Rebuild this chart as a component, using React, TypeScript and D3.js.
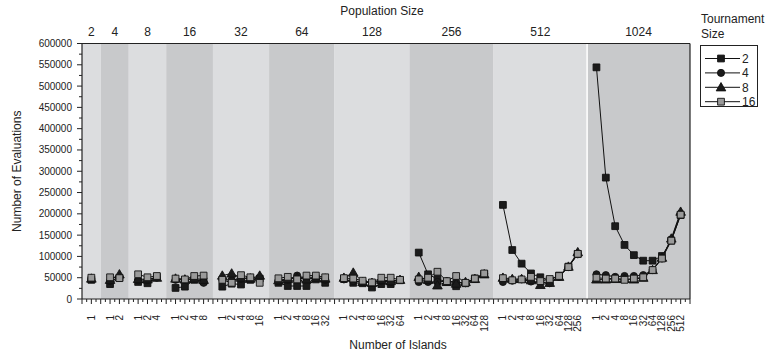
import React from "react";
import * as d3 from "d3";

// Population sizes shown as panels along the x axis
const POP_SIZES = [2, 4, 8, 16, 32, 64, 128, 256, 512, 1024];

// Tournament sizes (series)
const TOURNAMENT_SIZES = ["2", "4", "8", "16"];

// Number of evaluations per population size, one inner array per panel,
// indexed by number of islands 1, 2, 4, ... popSize/2
const evalsT2 = [
  [45000],
  [35000, 50000],
  [40000, 37000, 52000],
  [26000, 29000, 45000, 42000],
  [29000, 36000, 34000, 45000, 48000],
  [38000, 30500, 30500, 30500, 46000, 38000],
  [47000, 38000, 37000, 27000, 35000, 35000, 44000],
  [109000, 58000, 47000, 40000, 30000, 37000, 48000, 59000],
  [221000, 115000, 83000, 60000, 51000, 44000, 55000, 76000, 106000],
  [544000, 285000, 171000, 127000, 103000, 90000, 90000, 101000, 137000, 197000],
];
const evalsT4 = [
  [47000],
  [42000, 50000],
  [44000, 45000, 50000],
  [45000, 45000, 47000, 38000],
  [45000, 45000, 47000, 50000, 48000],
  [42000, 45000, 55000, 48000, 52000, 45000],
  [46000, 42000, 40000, 38000, 42000, 40000, 45000],
  [40000, 40000, 40000, 42000, 40000, 37000, 48000, 59000],
  [40000, 43000, 46000, 41000, 40000, 37000, 52000, 75000, 105000],
  [58000, 56000, 52000, 54000, 54000, 56000, 68000, 95000, 140000, 200000],
];
const evalsT8 = [
  [48000],
  [45000, 58000],
  [47000, 46000, 50000],
  [48000, 46000, 48000, 45000],
  [55000, 60000, 50000, 48000, 55000],
  [44000, 47000, 50000, 46000, 50000, 48000],
  [50000, 62000, 40000, 38000, 45000, 42000, 45000],
  [52000, 45000, 32000, 40000, 36000, 40000, 47000, 58000],
  [50000, 47000, 47000, 44000, 33000, 38000, 52000, 76000, 110000],
  [46000, 46000, 47000, 47000, 46000, 50000, 68000, 97000, 142000, 205000],
];
const evalsT16 = [
  [50000],
  [51000, 49000],
  [58000, 51000, 54000],
  [48000, 46000, 54000, 55000],
  [45000, 38000, 56000, 51000, 38000],
  [48600, 52000, 46000, 55000, 55000, 51000],
  [49000, 48000, 43000, 39000, 50000, 50000, 45000],
  [46000, 50000, 64000, 42000, 54000, 38000, 48000, 60000],
  [49000, 44000, 46000, 52000, 42000, 47000, 54000, 75000, 106000],
  [50000, 48000, 48000, 45000, 48000, 51000, 68000, 95000, 137000, 198000],
];

const Y_TICKS = d3.range(0, 600001, 50000);

const W = 765;
const H = 358;
const M = { left: 82, right: 690, top: 43.5, bottom: 299 };
const FONT = "Liberation Sans, Arial, sans-serif";

// Slot layout: each panel holds n island counts plus one spare slot
const panels = (() => {
  let start = 0;
  return POP_SIZES.map((p, i) => {
    const n = Math.round(Math.log2(p));
    const islands = d3.range(n).map((k) => 2 ** k);
    const panel = { pop: p, index: i, start, end: start + n + 1, islands };
    start += n + 1;
    return panel;
  });
})();
const TOTAL_SLOTS = panels[panels.length - 1].end;

const x = d3.scaleLinear().domain([0, TOTAL_SLOTS]).range([M.left, M.right]);
const y = d3.scaleLinear().domain([0, 600000]).range([M.bottom, M.top]);

const seriesData = [evalsT2, evalsT4, evalsT8, evalsT16];
const symbols = [d3.symbolSquare, d3.symbolCircle, d3.symbolTriangle, d3.symbolSquare];
const symbolSizes = [46, 40, 40, 46];
const fills = ["#1b1b1b", "#1b1b1b", "#1b1b1b", "#9a9a9a"];

const lineGen = d3
  .line<[number, number]>()
  .x((d) => d[0])
  .y((d) => d[1]);

function Marker({ s, cx, cy }: { s: number; cx: number; cy: number }) {
  const path = d3.symbol(symbols[s], symbolSizes[s])() as string;
  const dy = s === 2 ? 0.8 : 0;
  return (
    <path
      d={path}
      transform={`translate(${cx},${cy + dy})`}
      fill={fills[s]}
      stroke="#111"
      strokeWidth={0.9}
    />
  );
}

export default function App() {
  const xTicks = d3.range(0, TOTAL_SLOTS * 2 + 1).map((t) => t / 2);
  const yMinor = d3.range(25000, 600000, 50000);

  return (
    <svg
      width={W}
      height={H}
      style={{ position: "absolute", left: 0, top: 0, background: "#fff" }}
      fontFamily={FONT}
    >
      {/* Panel backgrounds */}
      {panels.map((p) => (
        <rect
          key={p.pop}
          x={x(p.start)}
          y={M.top}
          width={x(p.end) - x(p.start)}
          height={M.bottom - M.top}
          fill={p.index % 2 === 0 ? "#dcdddf" : "#c8c9cb"}
        />
      ))}
      <line
        x1={x(panels[9].start)}
        x2={x(panels[9].start)}
        y1={M.top}
        y2={M.bottom}
        stroke="#fff"
        strokeWidth={1.5}
      />

      {/* Frame */}
      <line x1={M.left} x2={M.right} y1={M.top} y2={M.top} stroke="#222" strokeWidth={1.2} />
      <line x1={M.right} x2={M.right} y1={M.top} y2={M.bottom} stroke="#222" strokeWidth={1.2} />
      <line x1={M.left} x2={M.right} y1={M.bottom} y2={M.bottom} stroke="#222" strokeWidth={1.2} />
      <line x1={M.left} x2={M.left} y1={M.top} y2={M.bottom} stroke="#222" strokeWidth={1.2} />

      {/* Y axis */}
      {Y_TICKS.map((t) => (
        <g key={t}>
          <line x1={M.left - 5} x2={M.left} y1={y(t)} y2={y(t)} stroke="#222" strokeWidth={1} />
          <text
            x={M.left - 10}
            y={y(t)}
            dy="0.35em"
            textAnchor="end"
            fontSize={10}
            fill="#222"
          >
            {t}
          </text>
        </g>
      ))}
      {yMinor.map((t) => (
        <line key={t} x1={M.left - 3} x2={M.left} y1={y(t)} y2={y(t)} stroke="#222" strokeWidth={1} />
      ))}
      <text
        transform={`translate(17,${(M.top + M.bottom) / 2}) rotate(-90)`}
        textAnchor="middle"
        dy="0.35em"
        fontSize={12}
        fill="#222"
      >
        Number of Evaluations
      </text>

      {/* X axis ticks */}
      {xTicks.map((t) => (
        <line
          key={t}
          x1={x(t)}
          x2={x(t)}
          y1={M.bottom}
          y2={M.bottom + (Number.isInteger(t) ? 5 : 3)}
          stroke="#222"
          strokeWidth={1}
        />
      ))}
      {panels.map((p) =>
        p.islands.map((isl, k) => (
          <text
            key={`${p.pop}-${isl}`}
            transform={`translate(${x(p.start + k + 1)},${M.bottom + 16}) rotate(-90)`}
            textAnchor="end"
            dy="0.35em"
            fontSize={10}
            fill="#222"
          >
            {isl}
          </text>
        ))
      )}
      <text x={(M.left + M.right) / 2 + 12} y={349} textAnchor="middle" fontSize={12} fill="#222">
        Number of Islands
      </text>

      {/* Population size labels */}
      {panels.map((p) => (
        <text
          key={p.pop}
          x={x((p.start + p.end) / 2)}
          y={36}
          textAnchor="middle"
          fontSize={12}
          fill="#222"
        >
          {p.pop}
        </text>
      ))}
      <text x={(M.left + M.right) / 2 - 4} y={15} textAnchor="middle" fontSize={12} fill="#222">
        Population Size
      </text>

      {/* Series lines */}
      {seriesData.map((series, s) =>
        panels.map((p) => {
          const pts = series[p.index].map(
            (v, k) => [x(p.start + k + 1), y(v)] as [number, number]
          );
          return (
            <path
              key={`l-${s}-${p.pop}`}
              d={lineGen(pts) as string}
              fill="none"
              stroke="#111"
              strokeWidth={1}
            />
          );
        })
      )}
      {/* Series markers */}
      {seriesData.map((series, s) =>
        panels.map((p) =>
          series[p.index].map((v, k) => (
            <Marker key={`m-${s}-${p.pop}-${k}`} s={s} cx={x(p.start + k + 1)} cy={y(v)} />
          ))
        )
      )}

      {/* Legend */}
      <text x={701} y={23} fontSize={12} fill="#222">
        Tournament
      </text>
      <text x={701} y={38} fontSize={12} fill="#222">
        Size
      </text>
      <rect x={700.5} y={45.5} width={57} height={61} fill="#fff" stroke="#222" strokeWidth={1} />
      {TOURNAMENT_SIZES.map((label, i) => {
        const ly = 58.5 + i * 14.4;
        return (
          <g key={label}>
            <line x1={705} x2={740} y1={ly} y2={ly} stroke="#111" strokeWidth={1} />
            <Marker s={i} cx={721} cy={ly} />
            <text x={742} y={ly} dy="0.35em" fontSize={12} fill="#222">
              {label}
            </text>
          </g>
        );
      })}
    </svg>
  );
}
